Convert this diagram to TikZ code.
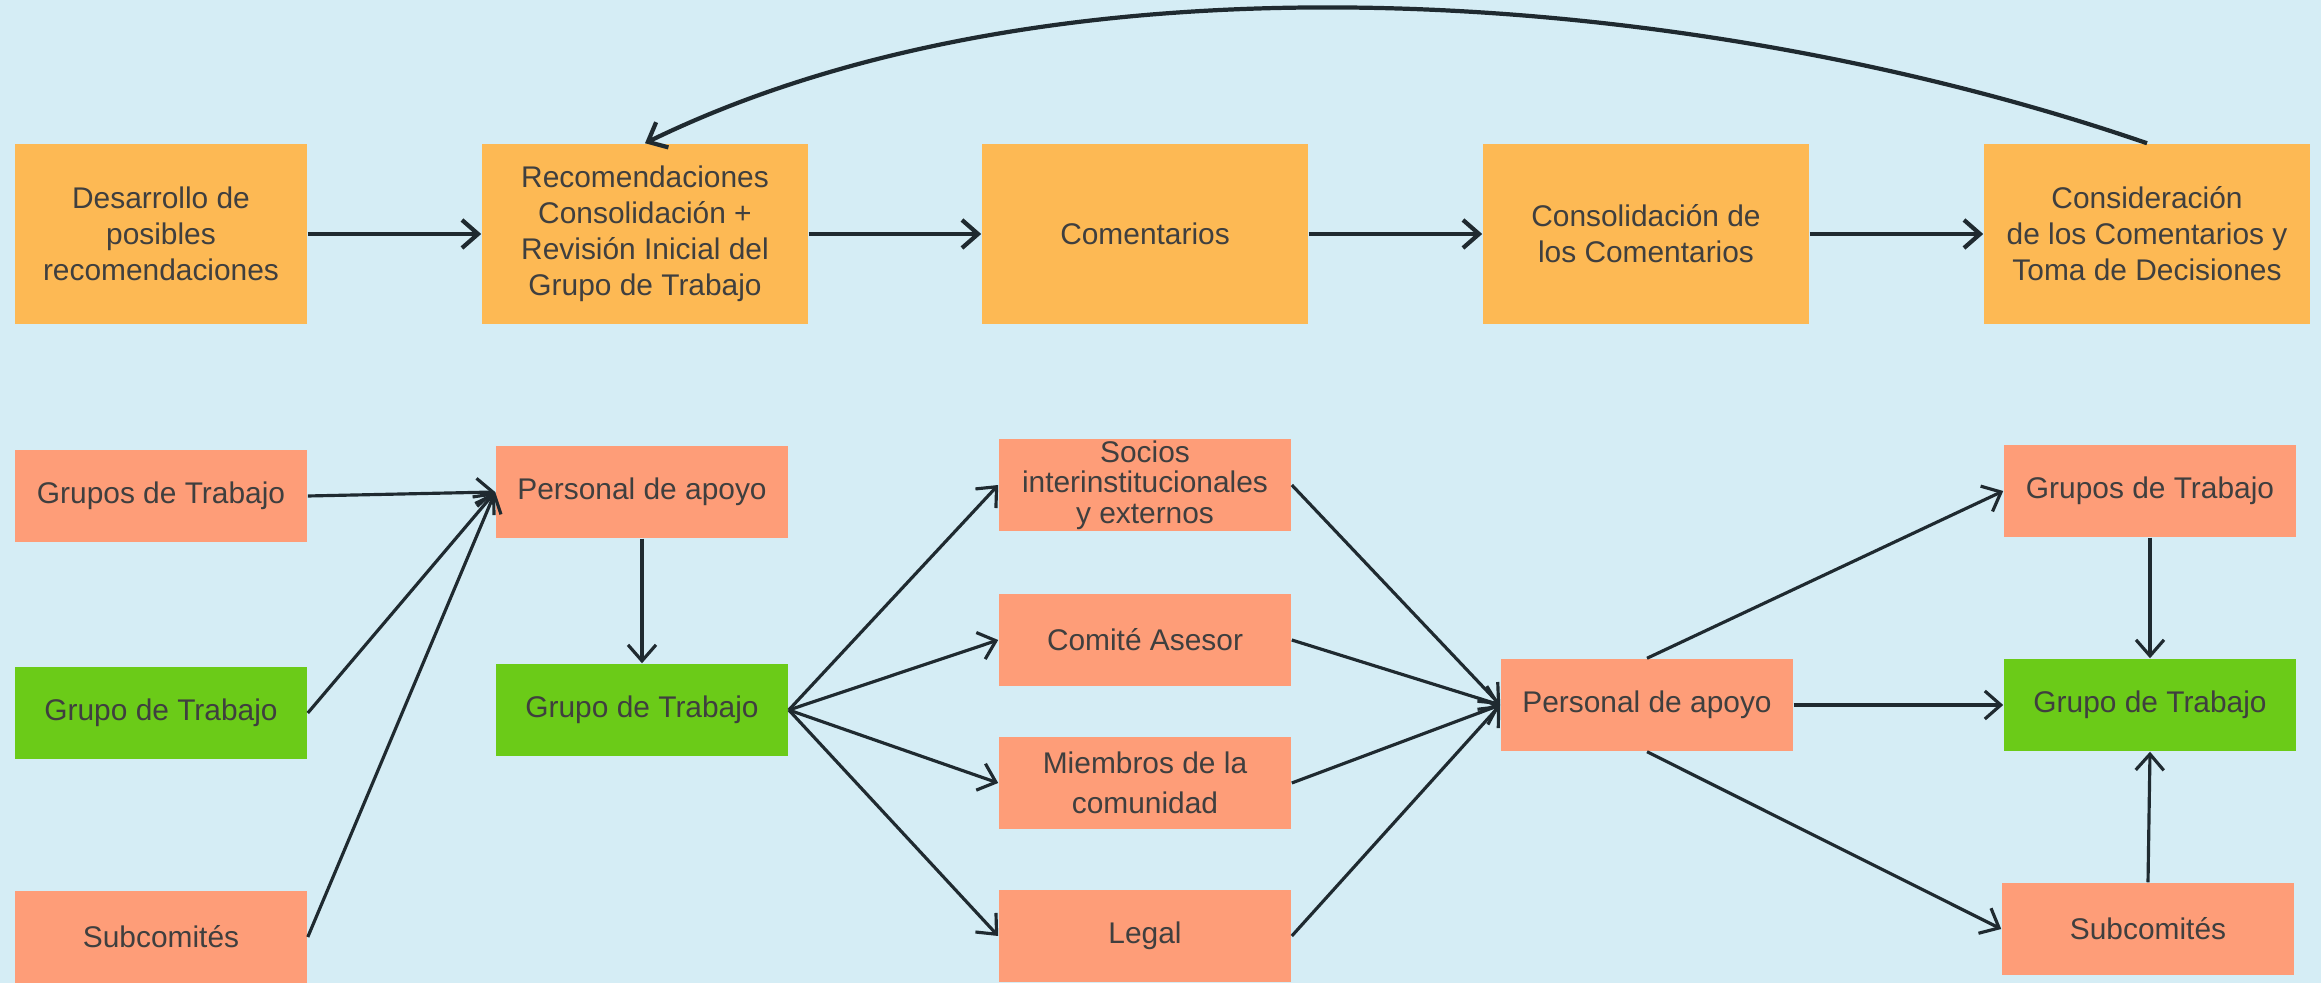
\documentclass[tikz,border=0pt]{standalone}
\usepackage{fontspec}
\setmainfont{Liberation Sans}
\usetikzlibrary{arrows.meta}
\definecolor{fondo}{HTML}{D5EDF5}
\definecolor{naranja}{HTML}{FDB954}
\definecolor{salmon}{HTML}{FE9D78}
\definecolor{verde}{HTML}{6BCB18}
\definecolor{tinta}{HTML}{3F3F3F}
\definecolor{flecha}{HTML}{1F2A30}

\begin{document}
\begin{tikzpicture}[x=0.01cm, y=-0.01cm,
  caja/.style={rectangle, inner sep=0pt, text=tinta, align=center,
    font=\fontsize{8.5}{10.2}\selectfont},
  etapa/.style={caja, fill=naranja, minimum width=3.26cm, minimum height=1.8cm},
  actor/.style={caja, fill=salmon, minimum width=2.92cm, minimum height=0.92cm},
  grupo/.style={actor, fill=verde},
  flujo/.style={draw=flecha, line width=1.2pt,
    -{Straight Barb[length=1.6mm,width=2.8mm]}},
  fino/.style={flujo, line width=0.9pt}]
  % fondo y margenes
  \useasboundingbox (0,0) rectangle (2321,983);
  \fill[fondo] (0,0) rectangle (2321,983);
  % fila superior: etapas del proceso
  \node[etapa, minimum width=2.92cm] (d1) at (161,234)
       {Desarrollo de\\posibles\\recomendaciones};
  \node[etapa] (d2) at (645,234)
       {Recomendaciones\\Consolidación +\\Revisión Inicial del\\Grupo de Trabajo};
  \node[etapa] (d3) at (1145,234) {Comentarios};
  \node[etapa] (d4) at (1646,234) {Consolidación de\\los Comentarios};
  \node[etapa] (d5) at (2147,234)
       {Consideración\\de los Comentarios y\\Toma de Decisiones};
  \foreach \a/\b in {d1/d2, d2/d3, d3/d4, d4/d5}
     \draw[flujo] (\a) -- (\b);
  \draw[flujo] (d5.north) .. controls +(161:4.7cm) and +(26:4.7cm) .. (d2.north);
  % fila inferior: participantes
  \node[actor] (l1) at (161,496) {Grupos de Trabajo};
  \node[grupo] (l2) at (161,713) {Grupo de Trabajo};
  \node[actor] (l3) at (161,937) {Subcomités};
  \node[actor] (p1) at (642,492) {Personal de apoyo};
  \node[grupo] (g1) at (642,710) {Grupo de Trabajo};
  \node[actor, font=\fontsize{8.5}{8.7}\selectfont] (socios) at (1145,485)
       {Socios\\interinstitucionales\\y externos};
  \node[actor] (comite) at (1145,640) {Comité Asesor};
  \node[actor, font=\fontsize{8.5}{11.4}\selectfont] (miembros) at (1145,783)
       {Miembros de la\\comunidad};
  \node[actor] (legal) at (1145,936) {Legal};
  \node[actor] (p2) at (1647,705) {Personal de apoyo};
  \node[actor] (r1) at (2150,491) {Grupos de Trabajo};
  \node[grupo] (r2) at (2150,705) {Grupo de Trabajo};
  \node[actor] (r3) at (2148,929) {Subcomités};
  \foreach \n in {l1, l2, l3}
     \draw[fino] (\n.east) -- (p1.west);
  \draw[fino] (p1) -- (g1);
  \foreach \n in {socios, comite, miembros, legal}
  {
     \draw[fino] (g1.east) -- (\n.west);
     \draw[fino] (\n.east) -- (p2.west);
  }
  \draw[fino] (p2.north) -- (r1.west);
  \draw[fino] (p2) -- (r2);
  \draw[fino] (p2.south) -- (r3.west);
  \draw[fino] (r1) -- (r2);
  \draw[fino] (r3.north) -- (r2.south);
\end{tikzpicture}
\end{document}
